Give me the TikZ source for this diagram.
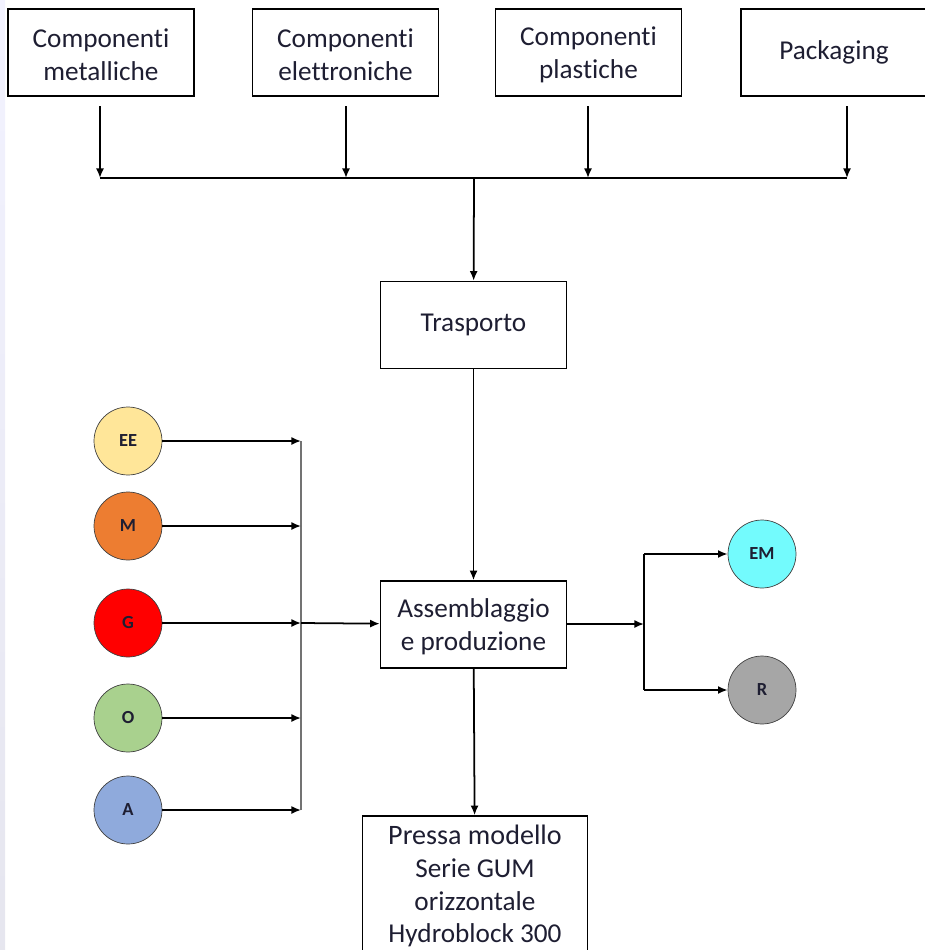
\documentclass[tikz,border=0pt]{standalone}
\usepackage{xcolor}
\usepackage{fontspec}
\setmainfont{Carlito}[Ligatures = NoCommon]
\usetikzlibrary{arrows.meta,positioning}

\definecolor{cEE}{HTML}{FFE699}
\definecolor{cM}{HTML}{ED7D31}
\definecolor{cG}{HTML}{FF0000}
\definecolor{cO}{HTML}{A9D18E}
\definecolor{cA}{HTML}{8FAADC}
\definecolor{cEM}{HTML}{73FBFD}
\definecolor{cR}{HTML}{A6A6A6}
\definecolor{txt}{HTML}{1E1E32}

\begin{document}
\begin{tikzpicture}[
				x = 0.02cm, y = -0.02cm,
				every node/.style = {font = \fontsize{15.5}{18.7}\selectfont, text = txt},
				box/.style = {draw, line width = 0.9pt, align = center, inner sep = 0pt,
					minimum width = 3.72cm, minimum height = 1.74cm},
				dot/.style = {draw = black!75, circle, inner sep = 0pt, minimum size = 1.36cm,
					font = \fontsize{10.5}{12}\bfseries\selectfont},
				arr/.style = {-{Latex[length = 5.5pt, width = 4.6pt]}, line width = 1pt}
			]

			\clip (0,0) rectangle (925,950);
			\shade[top color = blue!5, bottom color = blue!35!black!10!white, draw = none] (0,0) rectangle (5,950);

			% suppliers
			\node[box] (met) at (101,52.5) {\strut Componenti\\metalliche};
			\node[box] (ele) at (345.5,52.5) {\strut Componenti\\elettroniche};
			\node[box] (pla) at (588.5,52.5) {\strut Componenti\\plastiche};
			\node[box] (pkg) at (834,52.5) {\strut Packaging};

			\node[box] (tra) at (473.5,325) {\strut Trasporto};
			\node[box] (ass) at (473.5,624.5) {\strut Assemblaggio\\e produzione};
			\node[box, minimum width = 4.5cm, minimum height = 2.8cm] (pre) at (475,886)
				{\fontsize{16}{19.3}\selectfont Pressa modello\\Serie GUM\\orizzontale\\Hydroblock 300};

			% inputs and outputs
			\node[dot, fill = cEE] (EE) at (128,441) {EE};
			\node[dot, fill = cM] (M) at (128,526) {M};
			\node[dot, fill = cG] (G) at (128,623) {G};
			\node[dot, fill = cO] (O) at (128,718) {O};
			\node[dot, fill = cA] (A) at (128,810) {A};
			\node[dot, fill = cEM] (EM) at (762,554) {EM};
			\node[dot, fill = cR] (R) at (762,690) {R};

			% top collector
			\coordinate (b1) at (100,178);
			\coordinate (b2) at (346,178);
			\coordinate (b3) at (588,178);
			\coordinate (b4) at (847,178);
			\coordinate (bt) at (474,178);
			\draw[arr] (b1 |- 0,106) -- (b1);
			\draw[arr] (b2 |- 0,106) -- (b2);
			\draw[arr] (b3 |- 0,106) -- (b3);
			\draw[arr] (b4 |- 0,106) -- (b4);
			\draw[line width = 1pt] (b1) -- (b4);
			\draw[arr] (bt) -- (tra);

			\draw[arr] (tra) -- (ass);
			\draw[arr] (ass) -- (pre);

			% left collector
			\coordinate (lt) at (301,441);
			\coordinate (lb) at (301,810);
			\draw[line width = 1.3pt, black!55] (lt) -- (lb);
			\foreach \n in {EE,M,G,O,A}
				\draw[arr] (\n) -- (\n -| lt);
			\draw[arr] (G -| lt) -- (ass);

			% right split
			\coordinate (rs) at (644,624);
			\draw[arr] (ass.east |- rs) -- (rs);
			\draw[line width = 1pt] (rs |- EM) -- (rs |- R);
			\draw[arr] (rs |- EM) -- (EM);
			\draw[arr] (rs |- R) -- (R);

			\end{tikzpicture}
\end{document}
